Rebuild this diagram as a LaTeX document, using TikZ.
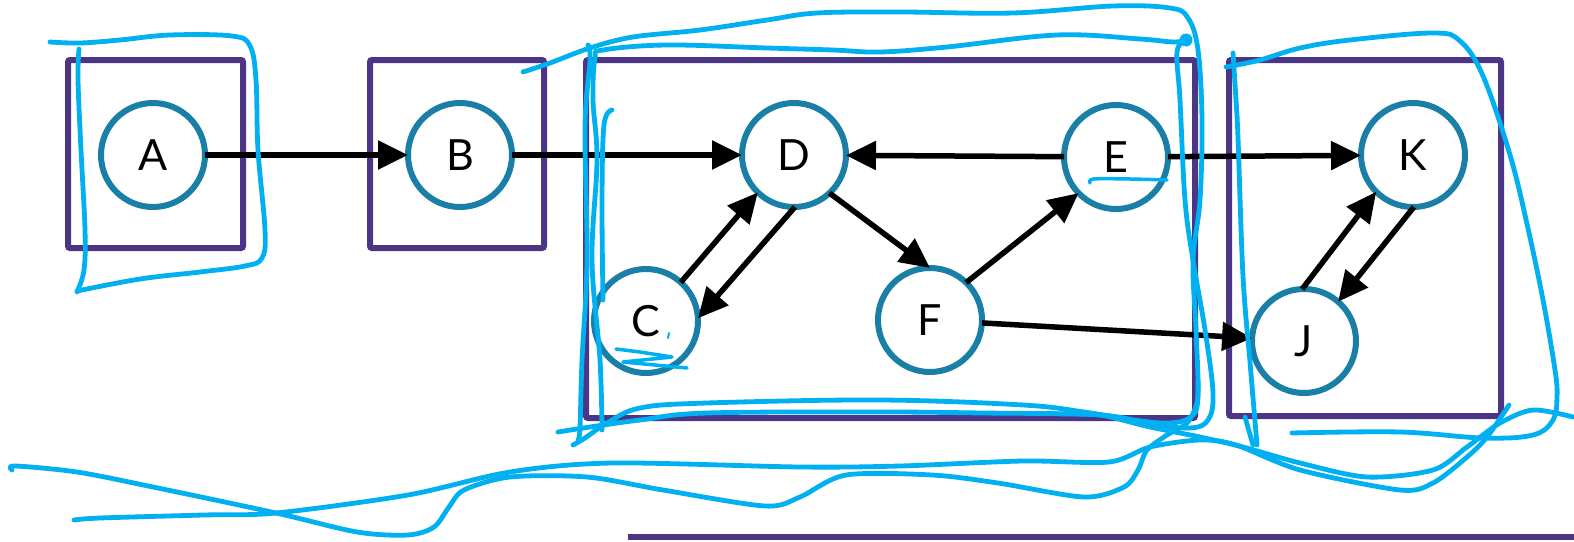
\documentclass[tikz,border=0pt]{standalone}
\usepackage{fontspec}
\setmainfont{Lato}
\usetikzlibrary{arrows.meta}
\definecolor{boxpurple}{RGB}{75,53,132}
\definecolor{nodeteal}{RGB}{26,127,166}
\definecolor{inkcyan}{RGB}{0,176,240}
\begin{document}
\begin{tikzpicture}[x=1pt,y=-1pt,
  frame/.style={draw=boxpurple, line width=6pt, rounded corners=2pt},
  vert/.style={circle, draw=nodeteal, line width=6pt, fill=white, minimum size=104pt, inner sep=0pt, outer sep=0pt, font=\fontsize{43}{50}\selectfont},
  edge/.style={line width=5.5pt, -{Triangle[length=30pt,width=28pt]}},
  ink/.style={draw=inkcyan, line width=4.8pt, line cap=round, line join=round}]
\useasboundingbox (0,0) rectangle (1574,541);

% frames
\draw[frame] (68,60) rectangle (243,248);
\draw[frame] (370,60) rectangle (544,248);
\draw[frame] (586,60) rectangle (1195,418);
\draw[frame] (1229,60) rectangle (1501,416);
\draw[draw=boxpurple, line width=6pt] (628,537) -- (1574,537);

% nodes
\node[vert] (A) at (153,155) {A};
\node[vert] (B) at (460,155) {B};
\node[vert] (D) at (794,155) {D};
\node[vert] (E) at (1116,157) {E};
\node[vert] (C) at (646,321) {C};
\node[vert] (F) at (930,320) {F};
\node[vert] (K) at (1413,155) {K};
\node[vert] (J) at (1304,341) {J};

% edges
\draw[edge] (A) -- (B);
\draw[edge] (B) -- (D);
\draw[edge] (E) -- (D);
\draw[edge] (E) -- (K);
\draw[edge] (C.48) -- (D.226);
\draw[edge] (D.271) -- (C.3);
\draw[edge] (D.313) -- (F.90);
\draw[edge] (F.46) -- (E.224);
\draw[edge] (F) -- (J);
\draw[edge] (J.92) -- (K.225);
\draw[edge] (K.271) -- (J.49);

% hand-drawn annotations
\draw[ink] plot[smooth, tension=0.6] coordinates {(50,42) (80,43) (120,40) (170,35) (232,36) (250,46) (256,80) (258,150) (265,230) (262,258) (245,266) (200,272) (140,279) (77,291)};
\draw[ink] plot[smooth, tension=0.6] coordinates {(79,49) (78,80) (81,150) (85,230) (84,270) (77,292)};

\draw[ink] plot[smooth, tension=0.6] coordinates {(523,72) (550,63) (590,48) (633,37) (700,30) (767,20) (817,13) (900,12) (1013,13) (1113,6) (1170,8) (1188,18) (1198,50) (1202,120) (1200,200) (1193,260) (1196,330) (1198,395) (1192,416) (1170,423) (1134,420) (1084,412) (1023,405) (880,400) (707,403) (640,408) (607,423) (585,438) (573,445)};
\draw[ink] plot[smooth, tension=0.6] coordinates {(602,430) (600,360) (592,260) (597,160) (593,100) (595,58) (603,50) (667,45) (767,48) (833,50) (880,52) (947,47) (1057,35) (1140,39) (1173,42) (1187,40)};
\fill[inkcyan] (1186,40) circle (6.5pt);
\draw[ink] plot[smooth, tension=0.6] coordinates {(1186,40) (1177,52) (1180,100) (1185,200) (1193,260) (1205,330) (1213,393) (1208,420) (1190,428) (1150,424) (1100,415) (983,413) (880,412) (707,413) (640,420) (590,427) (558,432)};
\draw[ink] plot[smooth, tension=0.6] coordinates {(588,45) (590,60) (585,127) (587,260) (582,360) (580,427) (578,440)};
\draw[ink] plot[smooth, tension=0.6] coordinates {(612,110) (604,125) (602,200) (603,300)};

\draw[ink] plot[smooth, tension=0.5] coordinates {(12,470) (15,466) (77,472) (153,487) (276,513) (357,532) (408,535) (434,527) (449,507) (464,490) (510,477) (587,477) (663,490) (765,506) (800,497) (846,475) (932,475) (998,483) (1084,497) (1124,487) (1138,470) (1147,450) (1167,435) (1187,423) (1197,403) (1198,380)};
\draw[ink] plot[smooth, tension=0.5] coordinates {(74,520) (100,518) (204,515) (276,513) (408,495) (510,472) (612,463) (800,467) (900,466) (1023,461) (1109,462) (1150,447) (1200,440) (1236,445) (1300,470) (1400,490) (1433,483) (1467,457) (1487,437) (1509,405)};
\draw[ink] plot[smooth, tension=0.5] coordinates {(1060,414) (1100,415) (1150,427) (1200,437) (1243,447) (1300,463) (1367,477) (1433,470) (1467,447) (1500,423) (1533,410) (1573,417)};

\draw[ink] plot[smooth, tension=0.6] coordinates {(1226,67) (1260,60) (1300,48) (1350,40) (1433,33) (1460,41) (1483,76) (1510,155) (1527,224) (1543,300) (1555,370) (1557,397) (1553,420) (1533,435) (1483,438) (1400,432) (1292,433)};
\draw[ink] plot[smooth, tension=0.6] coordinates {(1233,53) (1236,100) (1238,138) (1243,276) (1250,362) (1257,445)};
\draw[ink] plot[smooth, tension=0.6] coordinates {(1245,417) (1253,445)};

\draw[ink, line width=3.5pt] plot[smooth, tension=0.6] coordinates {(1090,183) (1094,179) (1130,179) (1167,180)};
\draw[ink, line width=3.5pt] plot[tension=0.4] coordinates {(616,349) (640,352) (672,357) (623,362) (655,365) (687,368)};
\draw[ink, line width=2pt] (669,333) -- (668,338);
\end{tikzpicture}
\end{document}
